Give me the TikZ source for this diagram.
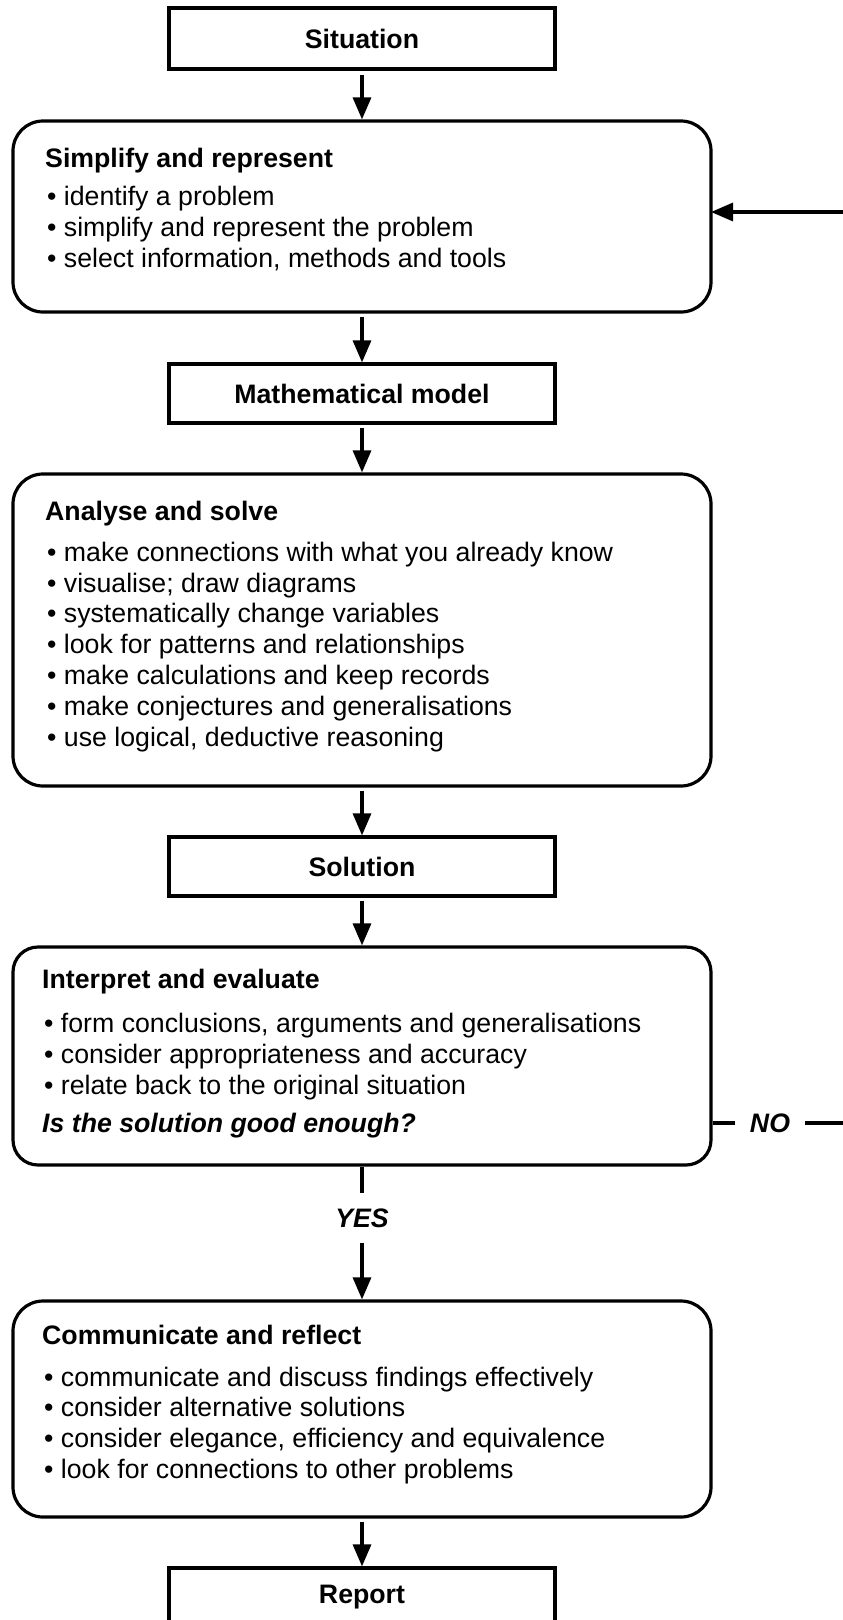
\documentclass[tikz,border=0pt]{standalone}
\usepackage{fontspec}
\setmainfont{Liberation Sans}
\usetikzlibrary{arrows.meta}
\begin{document}
\begin{tikzpicture}[x=1pt,y=-1pt,
  bx/.style={draw, line width=3.2pt, minimum width=386pt, inner sep=0pt, font=\fontsize{26.7}{31}\selectfont\bfseries},
  rbox/.style={draw, line width=3.2pt, rounded corners=30pt, minimum width=698pt, inner sep=0pt},
  hd/.style={anchor=base west, inner sep=0pt, font=\fontsize{26.7}{31}\selectfont\bfseries},
  itm/.style={anchor=base west, inner sep=0pt, font=\fontsize{26.7}{31}\selectfont},
  lab/.style={inner xsep=15pt, inner ysep=15pt, font=\fontsize{26.7}{31}\selectfont\bfseries\itshape},
  arr/.style={line width=3.2pt, -{Triangle[length=22pt,width=18pt]}},
  ln/.style={line width=3.2pt}]
\useasboundingbox (0,0) rectangle (843,1620);
\clip (0,0) rectangle (843,1620);

% boxes
\node[bx, minimum height=61pt] (sit) at (362,38.5) {Situation};
\node[rbox, minimum height=191pt] (sim) at (362,216.5) {};
\node[bx, minimum height=59pt] (mm) at (362,393.5) {Mathematical model};
\node[rbox, minimum height=312pt] (ana) at (362,630) {};
\node[bx, minimum height=59pt] (sol) at (362,866.5) {Solution};
\node[rbox, minimum height=218pt, rounded corners=25pt] (int) at (362,1056) {};
\node[rbox, minimum height=216pt] (com) at (362,1409) {};
\node[bx, minimum height=59pt] (rep) at (362,1597.5) {Report};

% texts
\node[hd] (simt) at (45,167) {Simplify and represent};
\foreach \t [count=\i] in {identify a problem, simplify and represent the problem, {select information, methods and tools}}
  \node[itm] (sim\i) at (47,174+31*\i) {• \t};

\node[hd] (anat) at (45,520) {Analyse and solve};
\foreach \t [count=\i] in {make connections with what you already know, visualise; draw diagrams, systematically change variables, look for patterns and relationships, make calculations and keep records, make conjectures and generalisations, {use logical, deductive reasoning}}
  \node[itm] (ana\i) at (47,530.5+30.8*\i) {• \t};

\node[hd] (intt) at (42,988) {Interpret and evaluate};
\foreach \t [count=\i] in {{form conclusions, arguments and generalisations}, consider appropriateness and accuracy, relate back to the original situation}
  \node[itm] (int\i) at (44,1001+31*\i) {• \t};
\node[hd, font=\fontsize{26.7}{31}\selectfont\bfseries\itshape] (intq) at (42,1132) {Is the solution good enough?};

\node[hd] (comt) at (42,1344) {Communicate and reflect};
\foreach \t [count=\i] in {communicate and discuss findings effectively, consider alternative solutions, {consider elegance, efficiency and equivalence}, look for connections to other problems}
  \node[itm] (com\i) at (44,1355.3+30.7*\i) {• \t};

% labels
\node[lab] (yes) at (362,1218) {YES};
\node[lab, inner ysep=0pt] (no) at (770,1123) {NO};
\coordinate (fbin) at (711,212);
\coordinate (fbout) at (880,1123);

% connectors
\draw[arr, shorten <=4pt] (sit.south) -- (sim.north);
\draw[arr, shorten <=3pt] (sim.south) -- (mm.north);
\draw[arr, shorten <=3pt] (mm.south) -- (ana.north);
\draw[arr, shorten <=3pt] (ana.south) -- (sol.north);
\draw[arr, shorten <=3pt] (sol.south) -- (int.north);
\draw[ln] (int.south) -- (yes.north);
\draw[arr] (yes.south) -- (com.north);
\draw[arr, shorten <=3pt] (com.south) -- (rep.north);
\draw[ln] (int.east |- no.west) -- (no.west);
\draw[arr] (no.east) -- (fbout) |- (fbin);
\end{tikzpicture}
\end{document}
